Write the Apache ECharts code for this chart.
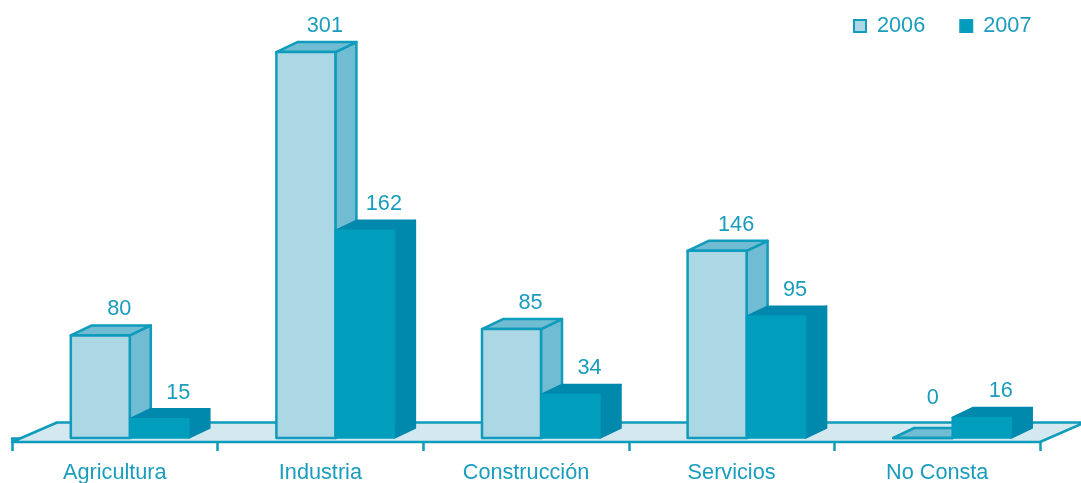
<!DOCTYPE html>
<html><head><meta charset="utf-8">
<style>html,body{margin:0;padding:0;background:#fff}#c{width:1081px;height:483px}</style>
<script src="https://cdn.jsdelivr.net/npm/echarts@6/dist/echarts.min.js"></script></head>
<body><div id="c"></div>
<script>
const categories = ['Agricultura','Industria','Construcción','Servicios','No Consta'];
const values2006 = [80,301,85,146,0];
const values2007 = [15,162,34,95,16];

const TXT='#1a9cbd', LINE='#0f9bbb', FONT='"Liberation Sans",Arial,sans-serif';
const BW=59, DX=21, DY=10, FS=21.7;
function bar(side,front,topside,stroke,faceStroke,lw){
  return function(params,api){
    const c=api.coord([api.value(0),api.value(1)]);
    const z=api.coord([api.value(0),0]);
    const v=api.value(1);
    const x0=c[0]+15+(side*BW)-BW, x1=x0+BW, t=c[1], b=z[1];
    const st=(f,s)=>({fill:f,stroke:s,lineWidth:lw,lineJoin:'round'});
    const kids=[
      {type:'polygon',shape:{points:[[x1,t],[x1+DX,t-DY],[x1+DX,b-DY],[x1,b]]},style:st(topside,stroke)},
      {type:'polygon',shape:{points:[[x0,t],[x0+DX,t-DY],[x1+DX,t-DY],[x1,t]]},style:st(topside,stroke)},
      {type:'rect',shape:{x:x0,y:t,width:BW,height:b-t},style:st(front,faceStroke)},
      {type:'text',x:x0+BW/2+(v===0?10:19),y:t-(v===0?40:26),
       style:{text:String(v),fill:TXT,font:FS+'px '+FONT,align:'center',verticalAlign:'middle'}}
    ];
    return {type:'group',children:kids};
  };
}
function floor(params,api){
  const s=params.coordSys, y=s.y+s.height+4;
  const lx=s.x, rx=s.x+s.width;
  return {type:'polygon',shape:{points:[[lx,y],[lx+45,y-19.5],[rx+45,y-19.5],[rx,y]]},
    style:{fill:'#d4e9ef',stroke:LINE,lineWidth:2.5,lineJoin:'round'}};
}
const chart=echarts.init(document.getElementById('c'),null,{renderer:'canvas'});
chart.setOption({
  animation:false,
  backgroundColor:'#fff',
  grid:{left:12,right:41,top:38,bottom:45,outerBoundsMode:'none'},
  legend:{left:853,top:15,padding:0,itemWidth:12,itemHeight:12,itemGap:34,icon:'rect',selectedMode:false,
    data:['2006','2007'],
    textStyle:{color:TXT,fontFamily:FONT,fontSize:FS,padding:[0,0,0,6]}},
  xAxis:{type:'category',data:categories,offset:4,
    axisLine:{lineStyle:{color:LINE,width:2.5}},
    axisTick:{show:true,length:13,alignWithLabel:false,lineStyle:{color:LINE,width:2.5}},
    axisLabel:{color:TXT,fontFamily:FONT,fontSize:FS,margin:20.5}},
  yAxis:{type:'value',show:false,min:0,max:312,splitLine:{show:false}},
  series:[
    {type:'custom',name:'floor',data:[[0,0]],renderItem:floor,silent:true,z:1,clip:false},
    {type:'custom',name:'2006',data:values2006.map((v,i)=>[i,v]),z:2,clip:false,
     itemStyle:{color:'#acd7e4',borderColor:LINE,borderWidth:2},
     renderItem:bar(0,'#acd7e4','#70bcd3',LINE,LINE,2.5)},
    {type:'custom',name:'2007',data:values2007.map((v,i)=>[i,v]),z:3,clip:false,
     itemStyle:{color:'#009dbd',borderColor:LINE,borderWidth:2},
     renderItem:bar(1,'#009dbd','#0088ad','#0088ad','#009dbd',1.5)}
  ]
});
</script></body></html>
